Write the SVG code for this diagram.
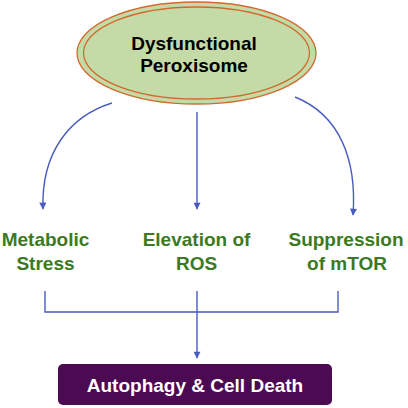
<svg xmlns="http://www.w3.org/2000/svg" width="408" height="408" viewBox="0 0 408 408">
<defs>
<marker id="ah" viewBox="0 0 10 10" refX="9" refY="5" markerWidth="8" markerHeight="7" orient="auto" markerUnits="userSpaceOnUse">
<path d="M0,0 L10,5 L0,10 z" fill="#4a5cc0"/>
</marker>
<style>
.t{font-family:"Liberation Sans",Arial,sans-serif;font-weight:bold;font-size:19px;text-anchor:middle}
.g{fill:#3b7a1f}
.c{fill:none;stroke:#4a5cc0;stroke-width:1.4}
</style>
</defs>
<rect width="408" height="408" fill="#fff"/>
<g id="connectors">
<path class="c" d="M112,103 C70,116 41,152 43,209" marker-end="url(#ah)"/>
<path class="c" d="M197,112 L197,209" marker-end="url(#ah)"/>
<path class="c" d="M295,97 C340,115 357,160 353,215" marker-end="url(#ah)"/>
<path class="c" d="M45,291 L45,312 L338,312 L338,291 M197,291 L197,358" marker-end="url(#ah)"/>
</g>
<g id="peroxisome">
<ellipse cx="196.5" cy="53" rx="119.5" ry="51" fill="#c4dba8" stroke="#d06a2e" stroke-width="1.3"/>
<ellipse cx="196.5" cy="53" rx="113" ry="46" fill="none" stroke="#d06a2e" stroke-width="1.3"/>
<text class="t" x="194" y="50" fill="#000">Dysfunctional</text>
<text class="t" x="194" y="72" fill="#000">Peroxisome</text>
</g>
<g id="metabolic">
<text class="t g" x="45.5" y="246">Metabolic</text>
<text class="t g" x="45.5" y="270">Stress</text>
</g>
<g id="ros">
<text class="t g" x="196.5" y="246">Elevation of</text>
<text class="t g" x="196.5" y="270">ROS</text>
</g>
<g id="mtor">
<text class="t g" x="346" y="246">Suppression</text>
<text class="t g" x="347" y="270">of mTOR</text>
</g>
<g id="autophagy">
<rect x="58" y="364" width="274" height="41" rx="5" fill="#4b0a52"/>
<text class="t" x="195" y="392" fill="#fff">Autophagy &amp; Cell Death</text>
</g>
</svg>
